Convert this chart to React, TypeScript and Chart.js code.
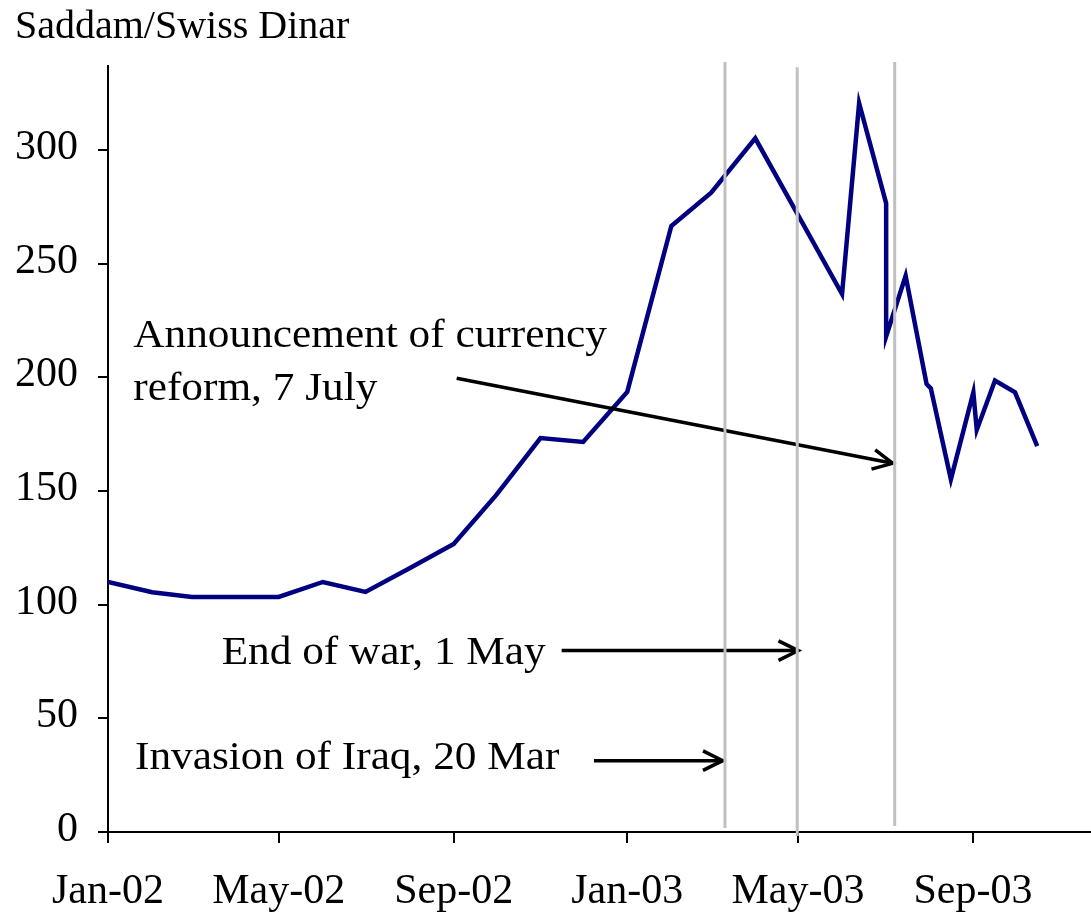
import React, { useEffect, useRef } from 'react';
import { Chart, registerables } from 'chart.js';

Chart.register(...registerables);

// Days counted from 1 Jan 2002
const dayOffsets = [0, 31, 59, 90, 120, 151, 181, 212, 243, 273, 304, 334, 365, 396, 424, 455, 485, 516, 528, 547, 547, 560.7, 575.4, 578.4, 592.5, 608.3, 610.7, 623.5, 637.6, 653.2];
const rates = [110, 105.5, 103.4, 103.4, 103.4, 110, 105.6, 116, 126.7, 148.3, 173.3, 171.6, 193.6, 266.6, 281.3, 305.2, 271.5, 236.7, 320.6, 276.6, 218, 244.7, 197.1, 195.2, 155.2, 193.4, 176.9, 198.6, 193.4, 169.8];

const xTickDays = [0, 120, 243, 365, 485, 608];
const xTickLabels = ['Jan-02', 'May-02', 'Sep-02', 'Jan-03', 'May-03', 'Sep-03'];
const yTickValues = [0, 50, 100, 150, 200, 250, 300];
const xMaxDay = 691;
const yMaxValue = 337;

const eventDays = [433.7, 484.5, 553];
const eventTops = [338.8, 336.5, 338.8];
const eventBottoms = [1.8, -1.8, 2.6];

const arrowStartDays = [245.1, 318.9, 341.6];
const arrowStartVals = [199.6, 79.8, 31.4];
const arrowEndDays = [551.6, 485.2, 432.1];
const arrowEndVals = [162.2, 79.8, 31.4];

const noteTexts = ['Announcement of currency', 'reform, 7 July', 'End of war, 1 May', 'Invasion of Iraq, 20 Mar'];
const noteDays = [17.8, 17.8, 79.9, 19];
const noteVals = [213.5, 190, 73.8, 27.6];

const yTitle = 'Saddam/Swiss Dinar';

const FONT = '"Liberation Serif", "Times New Roman", serif';

const annotatePlugin = {
  id: 'annotate',
  afterDatasetsDraw(chart: any) {
    const { ctx, chartArea } = chart;
    const xs = chart.scales.x;
    const ys = chart.scales.y;
    ctx.save();

    // arrows
    ctx.strokeStyle = '#000000';
    ctx.lineWidth = 3.5;
    ctx.lineCap = 'butt';
    ctx.lineJoin = 'miter';
    for (let i = 0; i < arrowStartDays.length; i++) {
      const x1 = xs.getPixelForValue(arrowStartDays[i]);
      const y1 = ys.getPixelForValue(arrowStartVals[i]);
      const x2 = xs.getPixelForValue(arrowEndDays[i]);
      const y2 = ys.getPixelForValue(arrowEndVals[i]);
      ctx.beginPath();
      ctx.moveTo(x1, y1);
      ctx.lineTo(x2, y2);
      ctx.stroke();
      const ang = Math.atan2(y2 - y1, x2 - x1);
      const len = 22;
      const spread = 0.46;
      ctx.beginPath();
      ctx.moveTo(x2 - len * Math.cos(ang - spread), y2 - len * Math.sin(ang - spread));
      ctx.lineTo(x2, y2);
      ctx.lineTo(x2 - len * Math.cos(ang + spread), y2 - len * Math.sin(ang + spread));
      ctx.stroke();
    }

    // event lines
    ctx.strokeStyle = '#c0c0c0';
    ctx.lineWidth = 3;
    for (let i = 0; i < eventDays.length; i++) {
      const x = xs.getPixelForValue(eventDays[i]);
      ctx.beginPath();
      ctx.moveTo(x, ys.getPixelForValue(eventTops[i]));
      ctx.lineTo(x, ys.getPixelForValue(eventBottoms[i]));
      ctx.stroke();
    }

    // notes
    ctx.fillStyle = '#000000';
    ctx.textBaseline = 'alphabetic';
    ctx.textAlign = 'left';
    ctx.font = `39px ${FONT}`;
    for (let i = 0; i < noteTexts.length; i++) {
      const x = xs.getPixelForValue(noteDays[i]);
      const y = ys.getPixelForValue(noteVals[i]);
      ctx.save();
      ctx.translate(x, y);
      ctx.scale(1.11, 1);
      ctx.fillText(noteTexts[i], 0, 0);
      ctx.restore();
    }

    // axis title
    ctx.font = `40px ${FONT}`;
    ctx.fillText(yTitle, chartArea.left - 93, chartArea.top - 28);

    ctx.restore();
  },
};

export default function App() {
  const canvasRef = useRef<HTMLCanvasElement | null>(null);

  useEffect(() => {
    if (!canvasRef.current) return;
    const chart = new Chart(canvasRef.current, {
      type: 'line',
      data: {
        datasets: [
          {
            data: dayOffsets.map((d, i) => ({ x: d, y: rates[i] })),
            borderColor: '#000080',
            borderWidth: 4.5,
            pointRadius: 0,
            tension: 0,
            fill: false,
          },
        ],
      },
      options: {
        animation: false,
        responsive: false,
        devicePixelRatio: 1,
        layout: { padding: { top: 66, left: 0, right: 0, bottom: 0 } },
        plugins: {
          legend: { display: false },
          tooltip: { enabled: false },
        },
        scales: {
          x: {
            type: 'linear',
            min: 0,
            max: xMaxDay,
            afterFit: (scale: any) => {
              scale.height = 80;
            },
            afterBuildTicks: (scale: any) => {
              scale.ticks = xTickDays.map((v) => ({ value: v }));
            },
            ticks: {
              autoSkip: false,
              maxRotation: 0,
              minRotation: 0,
              padding: 24,
              color: '#000000',
              font: { family: FONT, size: 42 },
              callback: (_v: any, idx: number) => xTickLabels[idx],
            },
            grid: {
              drawOnChartArea: false,
              drawTicks: true,
              tickLength: 11,
              color: '#000000',
              lineWidth: 2,
            },
            border: { display: true, color: '#000000', width: 2 },
          },
          y: {
            type: 'linear',
            min: 0,
            max: yMaxValue,
            afterFit: (scale: any) => {
              scale.width = 108;
            },
            afterBuildTicks: (scale: any) => {
              scale.ticks = yTickValues.map((v) => ({ value: v }));
            },
            ticks: {
              padding: 20,
              labelOffset: -2,
              color: '#000000',
              font: { family: FONT, size: 42 },
              callback: (v: any) => String(v),
            },
            grid: {
              drawOnChartArea: false,
              drawTicks: true,
              tickLength: 10,
              color: '#000000',
              lineWidth: 2,
            },
            border: { display: true, color: '#000000', width: 2 },
          },
        },
      },
      plugins: [annotatePlugin],
    });
    return () => chart.destroy();
  }, []);

  return (
    <div style={{ position: 'absolute', left: 0, top: 0, width: 1091, height: 912, background: '#ffffff' }}>
      <canvas ref={canvasRef} width={1091} height={912} style={{ display: 'block' }} />
    </div>
  );
}
